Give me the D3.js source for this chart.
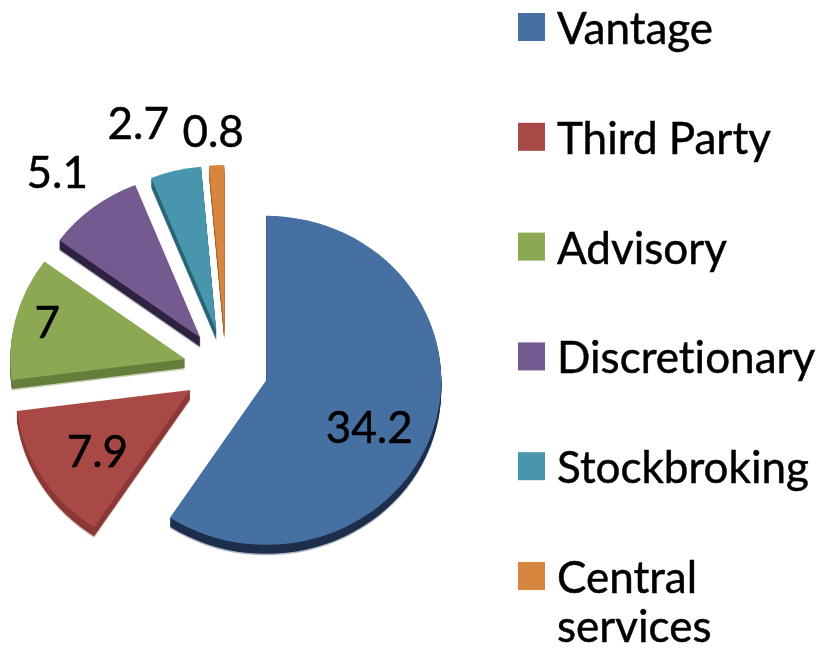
<!DOCTYPE html>
<html><head><meta charset="utf-8">
<script src="https://cdn.jsdelivr.net/npm/d3@7/dist/d3.min.js"></script>
<style>html,body{margin:0;padding:0;background:#fff}svg{display:block}text{font-family:Lato,"Noto Sans",sans-serif;fill:#000;stroke:#000;stroke-width:0.5px;font-variant-ligatures:none}</style>
</head><body><svg id="c" width="823" height="652"></svg>
<script>
const categories = ["Vantage","Third Party","Advisory","Discretionary","Stockbroking","Central services"];
const values = [34.2,7.9,7,5.1,2.7,0.8];
const topColors = ["#466FA2","#A94845","#8DA852","#755A90","#4696AE","#D8853F"];
const wallColors = ["#1C2F4C","#8A3936","#667E3B","#2E2340","#2A6575","#A5632C"];

const W=823,H=652, cx=226, cy=369, rx=175, tilt=0.94, explode=42, depth=9;
const svg=d3.select("#c");
const defs=svg.append("defs");
defs.append("filter").attr("id","soft").attr("x","-5%").attr("y","-5%").attr("width","110%").attr("height","110%")
  .append("feGaussianBlur").attr("stdDeviation",0.7);
const root=svg.append("g").attr("filter","url(#soft)");

const pie=d3.pie().sort(null).value(d=>d)(values);
const arc=d3.arc().innerRadius(0).outerRadius(rx);
const pos=p=>{const m=(p.startAngle+p.endAngle)/2;return [cx+Math.sin(m)*explode, cy-Math.cos(m)*explode*tilt];};

const slices=root.selectAll("g.slice").data(pie).join("g").attr("class","slice");
slices.each(function(p,i){
  const g=d3.select(this),[x,y]=pos(p);
  g.append("path").attr("d",arc(p)).attr("fill",wallColors[i]).attr("opacity",0.35)
    .attr("transform",`translate(${x},${y+depth+1.5}) scale(1,${tilt})`);
  d3.range(depth,0,-1).forEach(k=>{
    g.append("path").attr("d",arc(p)).attr("fill",wallColors[i])
      .attr("transform",`translate(${x},${y+k}) scale(1,${tilt})`);
  });
  g.append("path").attr("d",arc(p)).attr("fill",topColors[i])
    .attr("transform",`translate(${x},${y}) scale(1,${tilt})`);
});

// data labels: offset from each slice's apex
const labelOffset=[[103,46],[-93,60],[-138,-38],[-143,-167],[-78,-209],[-11,-200]];
root.selectAll("text.val").data(pie).join("text").attr("class","val")
  .attr("font-size",44).attr("text-anchor","middle").attr("dominant-baseline","central")
  .attr("x",(p,i)=>pos(p)[0]+labelOffset[i][0])
  .attr("y",(p,i)=>pos(p)[1]+labelOffset[i][1])
  .text(d=>d.data);

// legend
const ly=d3.scalePoint().domain(categories).range([27,576]);
const lg=root.selectAll("g.leg").data(categories).join("g").attr("class","leg")
  .attr("transform",d=>`translate(518,${ly(d)})`);
lg.append("rect").attr("x",0).attr("y",-14).attr("width",27).attr("height",28).attr("fill",(d,i)=>topColors[i]);
lg.each(function(d){
  const words=d==="Central services"?["Central","services"]:[d];
  d3.select(this).selectAll("text").data(words).join("text")
    .attr("x",39).attr("y",(w,j)=>j*49).attr("dominant-baseline","central")
    .attr("font-size",44).text(w=>w);
});
</script></body></html>
